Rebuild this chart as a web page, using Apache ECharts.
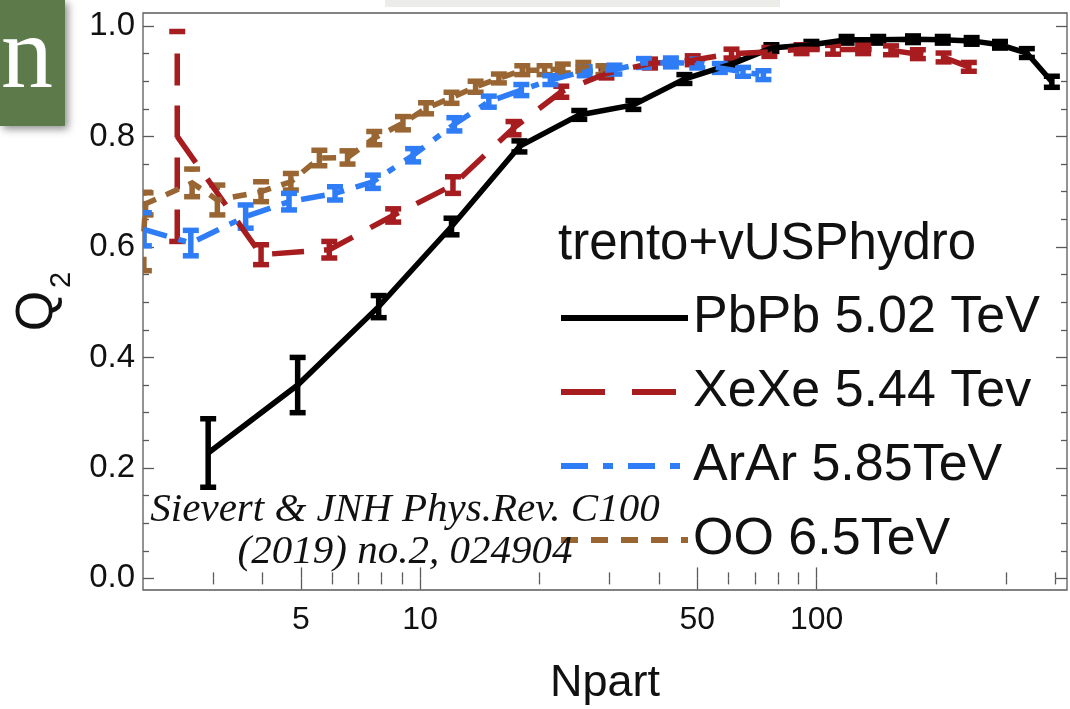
<!DOCTYPE html>
<html>
<head>
<meta charset="utf-8">
<script src="https://cdn.jsdelivr.net/npm/echarts@6/dist/echarts.min.js"></script>
<style>
  html, body { margin: 0; padding: 0; background: #ffffff; }
  #chart { width: 1070px; height: 709px; }
</style>
</head>
<body>
<div id="chart"></div>
<script>
// ---- Axis ranges and tick marks (Npart on a log scale) ----
const npartMin = 2;
const npartMax = 428;
const q2Min = -0.021;
const q2Max = 1.0235;
const majorTicksX = [5, 10, 50, 100];
const minorTicksX = [3, 4, 6, 7, 8, 9, 20, 30, 40, 60, 70, 80, 90, 200, 300, 400];
const majorTicksY = [0, 0.2, 0.4, 0.6, 0.8, 1.0];
const minorTicksY = [0.05, 0.1, 0.15, 0.25, 0.3, 0.35, 0.45, 0.5, 0.55, 0.65, 0.7, 0.75, 0.85, 0.9, 0.95];

// ---- Series: Npart, Q2 and its uncertainty ----
const seriesNames = ['PbPb 5.02 TeV', 'XeXe 5.44 Tev', 'ArAr 5.85TeV', 'OO 6.5TeV'];

const pbNpart = [2.92, 4.91, 7.86, 12.0, 17.8, 25.2, 34.5, 46.4, 61.5, 76.9, 97.0, 119, 143, 175, 208, 246, 290, 339, 392];
const pbQ2    = [0.227, 0.350, 0.492, 0.637, 0.782, 0.839, 0.857, 0.904, 0.932, 0.960, 0.966, 0.975, 0.975, 0.976, 0.975, 0.973, 0.966, 0.951, 0.899];
const pbErr   = [0.062, 0.050, 0.020, 0.015, 0.010, 0.008, 0.008, 0.008, 0.008, 0.006, 0.006, 0.006, 0.006, 0.006, 0.006, 0.006, 0.006, 0.008, 0.010];

const xeNpart = [2.44, 3.97, 5.9, 8.55, 12.1, 17.2, 22.7, 29.5, 38.0, 48.7, 61.0, 76.0, 91.6, 110, 131, 154, 180, 209, 242];
const xeQ2    = [0.800, 0.586, 0.595, 0.657, 0.712, 0.815, 0.881, 0.914, 0.932, 0.938, 0.950, 0.953, 0.958, 0.957, 0.958, 0.956, 0.949, 0.943, 0.926];
const xeErr   = [0.190, 0.018, 0.015, 0.012, 0.015, 0.012, 0.010, 0.008, 0.008, 0.008, 0.008, 0.008, 0.008, 0.008, 0.008, 0.008, 0.008, 0.008, 0.008];

const arNpart = [2.01, 2.64, 3.63, 4.67, 6.1, 7.6, 9.6, 12.2, 14.9, 18.0, 21.3, 26.0, 30.9, 36.7, 42.9, 50.0, 57.0, 65.2, 73.4];
const arQ2    = [0.632, 0.607, 0.655, 0.682, 0.697, 0.718, 0.766, 0.822, 0.863, 0.884, 0.902, 0.918, 0.921, 0.933, 0.934, 0.932, 0.924, 0.917, 0.911];
const arErr   = [0.030, 0.023, 0.021, 0.015, 0.012, 0.012, 0.012, 0.012, 0.010, 0.010, 0.008, 0.008, 0.008, 0.008, 0.008, 0.008, 0.008, 0.008, 0.008];

const ooNpart = [2.01, 2.03, 2.66, 3.08, 3.97, 4.72, 5.57, 6.56, 7.66, 9.05, 10.35, 12.0, 13.8, 15.8, 18.1, 20.6, 22.9, 25.8, 29.0];
const ooQ2    = [0.628, 0.678, 0.716, 0.685, 0.700, 0.718, 0.761, 0.762, 0.797, 0.824, 0.851, 0.870, 0.890, 0.905, 0.920, 0.920, 0.923, 0.926, 0.920];
const ooErr   = [0.071, 0.020, 0.025, 0.027, 0.018, 0.015, 0.014, 0.012, 0.012, 0.012, 0.010, 0.010, 0.010, 0.008, 0.008, 0.008, 0.008, 0.008, 0.008];

// ---- Styles ----
const colors = { pb: '#000000', xe: '#a61c1f', ar: '#2f7df6', oo: '#996633' };
const dashes = { pb: null, xe: [32, 20], ar: [24, 12, 8, 12], oo: [14, 11] };
const legendDashes = { pb: null, xe: [44, 27], ar: [27, 15, 10, 15], oo: [17, 13] };
const frameColor = '#5a5a5a';
const sansFont = '"Liberation Sans", Arial, Helvetica, sans-serif';
const serifFont = '"Liberation Serif", "Times New Roman", serif';

const log10 = Math.log10;

function xAxisDef(position, values, tickLen, withLabels) {
  const ax = {
    type: 'value', gridIndex: 0, position: position,
    min: log10(npartMin), max: log10(npartMax),
    axisLine: { show: false },
    splitLine: { show: false },
    axisTick: { show: true, inside: true, length: tickLen, customValues: values.map(log10),
                lineStyle: { color: frameColor, width: 1.3 } },
    axisLabel: { show: false }
  };
  if (withLabels) {
    ax.axisLabel = {
      show: true, customValues: values.map(log10),
      formatter: v => String(Math.round(Math.pow(10, v))),
      fontSize: 32, fontFamily: sansFont, color: '#111', margin: 14
    };
    ax.name = 'Npart';
    ax.nameLocation = 'middle';
    ax.nameGap = 71;
    ax.nameTextStyle = { fontSize: 45, fontFamily: sansFont, color: '#111' };
  }
  return ax;
}

function yAxisDef(position, values, tickLen, withLabels) {
  const ax = {
    type: 'value', gridIndex: 0, position: position,
    min: q2Min, max: q2Max,
    axisLine: { show: false },
    splitLine: { show: false },
    axisTick: { show: true, inside: true, length: tickLen, customValues: values,
                lineStyle: { color: frameColor, width: 1.3 } },
    axisLabel: { show: false }
  };
  if (withLabels) {
    ax.axisLabel = {
      show: true, customValues: values,
      formatter: v => v.toFixed(1),
      fontSize: 33, fontFamily: sansFont, color: '#111', margin: 8
    };
  }
  return ax;
}

function toPoints(np, q) {
  return np.map((n, i) => [log10(n), q[i]]);
}
function toBars(np, q, err) {
  return np.map((n, i) => [log10(n), q[i] - err[i], q[i] + err[i]]);
}

function errorBarRenderer(color, dash) {
  return function (params, api) {
    const x = api.value(0);
    const lo = api.coord([x, api.value(1)]);
    const hi = api.coord([x, api.value(2)]);
    const hw = 8;
    const capStyle = { stroke: color, lineWidth: 5.5, fill: null };
    return {
      type: 'group',
      children: [
        { type: 'line', shape: { x1: lo[0], y1: lo[1], x2: hi[0], y2: hi[1] },
          style: { stroke: color, lineWidth: 5.5, fill: null, lineDash: dash || null } },
        { type: 'line', shape: { x1: lo[0] - hw, y1: lo[1], x2: lo[0] + hw, y2: lo[1] }, style: capStyle },
        { type: 'line', shape: { x1: hi[0] - hw, y1: hi[1], x2: hi[0] + hw, y2: hi[1] }, style: capStyle }
      ]
    };
  };
}

function lineSeries(name, key, np, q) {
  return {
    name: name, type: 'line', xAxisIndex: 0, yAxisIndex: 0,
    data: toPoints(np, q), symbol: 'none', clip: true, silent: true, animation: false,
    lineStyle: { color: colors[key], width: 5.5, type: dashes[key] || 'solid', cap: 'butt', join: 'miter' },
    itemStyle: { color: colors[key] }
  };
}
function barSeries(name, key, np, q, err) {
  return {
    name: name + ' errors', type: 'custom', xAxisIndex: 0, yAxisIndex: 0,
    data: toBars(np, q, err), clip: true, silent: true, animation: false,
    renderItem: errorBarRenderer(colors[key], dashes[key])
  };
}

function legendItem(name, dash) {
  return {
    name: name,
    lineStyle: { width: 6, type: dash || 'solid', cap: 'butt' },
    itemStyle: { opacity: 0, borderWidth: 0 }
  };
}

const chart = echarts.init(document.getElementById('chart'), null, { renderer: 'canvas' });

const option = {
  backgroundColor: '#ffffff',
  animation: false,
  grid: {
    left: 143, right: 3, top: 13, bottom: 119,
    containLabel: false, outerBoundsMode: 'none',
    show: true, borderColor: frameColor, borderWidth: 1.3, backgroundColor: 'transparent'
  },
  xAxis: [
    xAxisDef('bottom', majorTicksX, 11, true),
    xAxisDef('bottom', minorTicksX, 6, false),
    xAxisDef('top', majorTicksX, 11, false),
    xAxisDef('top', minorTicksX, 6, false)
  ],
  yAxis: [
    yAxisDef('left', majorTicksY, 11, true),
    yAxisDef('left', minorTicksY, 6, false),
    yAxisDef('right', majorTicksY, 11, false),
    yAxisDef('right', minorTicksY, 6, false)
  ],
  title: {
    text: 'trento+vUSPhydro', left: 558, top: 219, padding: 0,
    textStyle: { fontSize: 51, fontWeight: 'normal', fontFamily: sansFont, color: '#111' }
  },
  legend: {
    orient: 'vertical', left: 558, top: 292, padding: 0,
    itemWidth: 127, itemHeight: 20, itemGap: 22,
    selectedMode: false,
    textStyle: { fontSize: 52, fontFamily: sansFont, color: '#111', padding: [0, 0, 0, 0] },
    data: [
      legendItem(seriesNames[0], null),
      legendItem(seriesNames[1], legendDashes.xe),
      legendItem(seriesNames[2], legendDashes.ar),
      legendItem(seriesNames[3], legendDashes.oo)
    ]
  },
  graphic: [
    { type: 'rect', left: 385, top: 0, z: 1, shape: { width: 395, height: 7 }, style: { fill: '#ecece9' } },
    { type: 'rect', left: 0, top: 0, z: 100,
      shape: { x: 0, y: 0, width: 65, height: 126 },
      style: { fill: '#5c7a4a', shadowBlur: 8, shadowColor: 'rgba(0,0,0,0.45)', shadowOffsetX: 3, shadowOffsetY: 3 } },
    { type: 'text', x: 53, y: 60, z: 101,
      style: { text: 'n', font: '104px ' + serifFont, fill: '#ffffff', align: 'right', verticalAlign: 'middle' } },
    // y-axis title: Q with subscript 2, written bottom-to-top
    { type: 'text', x: 38, y: 311, rotation: Math.PI / 2, z: 50,
      style: { text: 'Q', font: '52px ' + sansFont, fill: '#111', align: 'center', verticalAlign: 'middle' } },
    { type: 'text', x: 62, y: 280, rotation: Math.PI / 2, z: 50,
      style: { text: '2', font: '29px ' + sansFont, fill: '#111', align: 'center', verticalAlign: 'middle' } },
    { type: 'text', x: 405, y: 510, z: 50,
      style: { text: 'Sievert & JNH Phys.Rev. C100', font: 'italic 41px ' + serifFont, fill: '#111',
               align: 'center', verticalAlign: 'middle' } },
    { type: 'text', x: 405, y: 552, z: 50,
      style: { text: '(2019) no.2, 024904', font: 'italic 41px ' + serifFont, fill: '#111',
               align: 'center', verticalAlign: 'middle' } }
  ],
  series: [
    lineSeries(seriesNames[0], 'pb', pbNpart, pbQ2),
    barSeries(seriesNames[0], 'pb', pbNpart, pbQ2, pbErr),
    lineSeries(seriesNames[1], 'xe', xeNpart, xeQ2),
    barSeries(seriesNames[1], 'xe', xeNpart, xeQ2, xeErr),
    lineSeries(seriesNames[3], 'oo', ooNpart, ooQ2),
    barSeries(seriesNames[3], 'oo', ooNpart, ooQ2, ooErr),
    lineSeries(seriesNames[2], 'ar', arNpart, arQ2),
    barSeries(seriesNames[2], 'ar', arNpart, arQ2, arErr)
  ]
};

chart.setOption(option);
</script>
</body>
</html>
